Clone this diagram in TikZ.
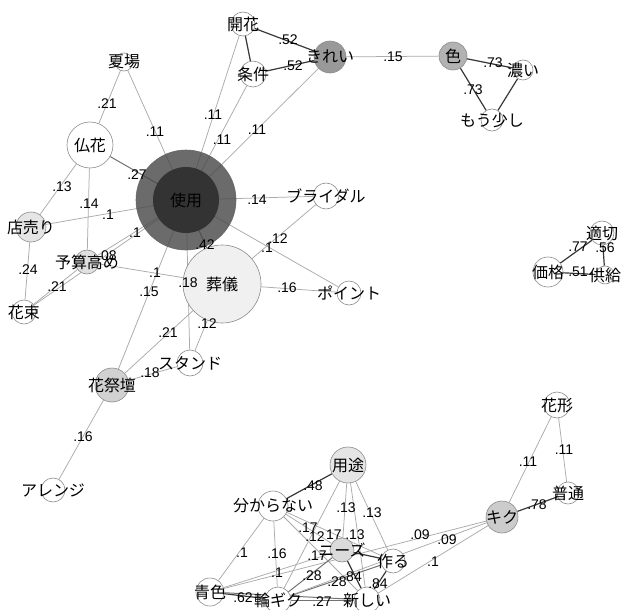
\documentclass[tikz,border=0pt]{standalone}
\usepackage{fontspec}
\setmainfont{Liberation Sans}
\newfontfamily\jpfont{Noto Sans CJK JP}
\usetikzlibrary{backgrounds}
\begin{document}
\begin{tikzpicture}[x=1pt,y=-1pt,
  nd/.style={circle,draw=black!45,line width=0.6pt,fill=white,inner sep=0pt,minimum size=#1},
  nd/.default=20pt,
  jt/.style={font=\jpfont\fontsize{16}{16}\selectfont,text=black,inner sep=0pt},
  nl/.style={font=\fontsize{14}{14}\selectfont,inner sep=0pt,text=black},
  ew/.style={draw=black!33,line width=0.75pt},
  em/.style={draw=black!55,line width=1pt},
  es/.style={draw=black!78,line width=1.2pt},
]
\useasboundingbox (0,0) rectangle (622,610);

% ---- circles ----
\node[nd=100pt,fill=black!72,draw=black!60,fill opacity=0.8] (shiyou) at (186,200) {};
\node[circle,inner sep=0pt,minimum size=66pt,fill=black!80] (shiyouin) at (186,200) {};
\node[nd=78pt,fill=black!6] (sougi) at (222,284) {};
\node[nd=46pt] (butsu) at (90,145) {};
\node[nd=18pt] (natsu) at (124,62) {};
\node[nd=24pt] (kaika) at (243,24) {};
\node[nd=26pt] (jouken) at (253,74) {};
\node[nd=32pt,fill=black!40] (kirei) at (330,57) {};
\node[nd=28pt,fill=black!30] (iro) at (453,56) {};
\node[nd=20pt] (koi) at (523,70) {};
\node[nd=22pt] (mou) at (492,120) {};
\node[nd=24pt] (tekisetsu) at (602,233) {};
\node[nd=30pt] (kakaku) at (548,272) {};
\node[nd=18pt] (kyoukyu) at (605,275) {};
\node[nd=26pt] (bridal) at (326,196) {};
\node[nd=24pt] (point) at (349,293) {};
\node[nd=26pt] (stand) at (190,363) {};
\node[nd=34pt,fill=black!18] (kasaidan) at (112,385) {};
\node[nd=24pt] (arrange) at (53,490) {};
\node[nd=30pt,fill=black!10] (misebai) at (31,227) {};
\node[nd=24pt,fill=black!12] (yosan) at (87,262) {};
\node[nd=24pt] (hanataba) at (24,312) {};
\node[nd=36pt,fill=black!10] (youto) at (348,465) {};
\node[nd=30pt] (wakaranai) at (273,506) {};
\node[nd=24pt,fill=black!14] (needs) at (342,550) {};
\node[nd=24pt] (tsukuru) at (393,561) {};
\node[nd=28pt] (aoiro) at (210,592) {};
\node[nd=26pt] (ringiku) at (278,600) {};
\node[nd=26pt] (atarashii) at (367,600) {};
\node[nd=32pt,fill=black!20] (kiku) at (502,517) {};
\node[nd=22pt] (futsuu) at (568,493) {};
\node[nd=26pt] (kagata) at (557,405) {};

% ---- edges ----
\begin{scope}[on background layer]
\fill[white] (0,0) rectangle (622,610);
\draw[es] (kaika) -- (kirei);
\draw[es] (jouken) -- (kirei);
\draw[es] (kaika) -- (jouken);
\draw[ew] (kirei) -- (iro);
\draw[es] (iro) -- (koi);
\draw[es] (iro) -- (mou);
\draw[es] (koi) -- (mou);
\draw[ew] (shiyou.center) -- (natsu);
\draw[ew] (shiyou.center) -- (kaika);
\draw[ew] (shiyou.center) -- (jouken);
\draw[ew] (shiyou.center) -- (kirei);
\draw[ew] (natsu) -- (butsu);
\draw[em] (butsu) -- (shiyou.center);
\draw[ew] (butsu) -- (misebai);
\draw[ew] (butsu) -- (yosan);
\draw[ew] (misebai) -- (shiyou.center);
\draw[ew] (misebai) -- (hanataba);
\draw[ew] (hanataba) -- (yosan);
\draw[ew] (hanataba) -- (shiyou.center);
\draw[ew] (yosan) -- (shiyou.center);
\draw[ew] (yosan) -- (sougi);
\draw[em] (shiyou.center) -- (sougi);
\draw[ew] (shiyou.center) -- (bridal);
\draw[ew] (shiyou.center) -- (point);
\draw[ew] (shiyou.center) -- (stand);
\draw[ew] (shiyou.center) -- (kasaidan);
\draw[ew] (sougi) -- (bridal);
\draw[ew] (sougi) -- (point);
\draw[ew] (sougi) -- (stand);
\draw[ew] (sougi) -- (kasaidan);
\draw[ew] (kasaidan) -- (stand);
\draw[ew] (kasaidan) -- (arrange);
\draw[es] (tekisetsu) -- (kakaku);
\draw[es] (tekisetsu) -- (kyoukyu);
\draw[es] (kakaku) -- (kyoukyu);
\draw[ew] (kagata) -- (kiku);
\draw[ew] (kagata) -- (futsuu);
\draw[es] (kiku) -- (futsuu);
\draw[es] (youto) -- (wakaranai);
\draw[ew] (youto) -- (needs);
\draw[ew] (youto) -- (tsukuru);
\draw[ew] (youto) -- (atarashii);
\draw[ew] (youto) -- (ringiku);
\draw[ew] (wakaranai) -- (needs);
\draw[ew] (wakaranai) -- (tsukuru);
\draw[ew] (wakaranai) -- (atarashii);
\draw[ew] (wakaranai) -- (aoiro);
\draw[ew] (wakaranai) -- (ringiku);
\draw[ew] (aoiro) -- (needs);
\draw[ew] (aoiro) -- (kiku);
\draw[es] (aoiro) -- (ringiku);
\draw[em] (aoiro) -- (atarashii);
\draw[em] (ringiku) -- (atarashii);
\draw[em] (ringiku) -- (needs);
\draw[em] (ringiku) -- (tsukuru);
\draw[ew] (ringiku) -- (kiku);
\draw[es] (needs) -- (atarashii);
\draw[es] (tsukuru) -- (atarashii);
\draw[es] (needs) -- (tsukuru);
\draw[ew] (atarashii) -- (kiku);
\end{scope}

% ---- word labels ----
\node[jt] (t1) at (shiyou) {使用};
\node[jt] (t2) at (sougi) {葬儀};
\node[jt] (t3) at (butsu) {仏花};
\node[jt] (t4) at (natsu) {夏場};
\node[jt] (t5) at (kaika) {開花};
\node[jt] (t6) at (jouken) {条件};
\node[jt] (t7) at (kirei) {きれい};
\node[jt] (t8) at (iro) {色};
\node[jt] (t9) at (koi) {濃い};
\node[jt] (t10) at (mou) {もう少し};
\node[jt] (t11) at (tekisetsu) {適切};
\node[jt] (t12) at (kakaku) {価格};
\node[jt] (t13) at (kyoukyu) {供給};
\node[jt] (t14) at (bridal) {ブライダル};
\node[jt] (t15) at (point) {ポイント};
\node[jt] (t16) at (stand) {スタンド};
\node[jt] (t17) at (kasaidan) {花祭壇};
\node[jt] (t18) at (arrange) {アレンジ};
\node[jt] (t19) at (misebai) {店売り};
\node[jt] (t20) at (yosan) {予算高め};
\node[jt] (t21) at (hanataba) {花束};
\node[jt] (t22) at (youto) {用途};
\node[jt] (t23) at (wakaranai) {分からない};
\node[jt] (t24) at (needs) {ニーズ};
\node[jt] (t25) at (tsukuru) {作る};
\node[jt] (t26) at (aoiro) {青色};
\node[jt] (t27) at (ringiku) {輪ギク};
\node[jt] (t28) at (atarashii) {新しい};
\node[jt] (t29) at (kiku) {キク};
\node[jt] (t30) at (futsuu) {普通};
\node[jt] (t31) at (kagata) {花形};

% ---- coefficient labels ----
\node[nl] (l1) at (288,40) {.52};
\node[nl] (l2) at (293,66) {.52};
\node[nl] (l3) at (393,57) {.15};
\node[nl] (l4) at (493,63) {.73};
\node[nl] (l5) at (473,90) {.73};
\node[nl] (l6) at (155,132) {.11};
\node[nl] (l7) at (213,115) {.11};
\node[nl] (l8) at (222,140) {.11};
\node[nl] (l9) at (257,130) {.11};
\node[nl] (l10) at (107,104) {.21};
\node[nl] (l11) at (137,175) {.27};
\node[nl] (l12) at (62,187) {.13};
\node[nl] (l13) at (89,204) {.14};
\node[nl] (l14) at (108,215) {.1};
\node[nl] (l15) at (135,233) {.1};
\node[nl] (l16) at (107,256) {.08};
\node[nl] (l17) at (28,270) {.24};
\node[nl] (l18) at (57,287) {.21};
\node[nl] (l19) at (155,273) {.1};
\node[nl] (l20) at (149,292) {.15};
\node[nl] (l21) at (188,283) {.18};
\node[nl] (l22) at (205,245) {.42};
\node[nl] (l23) at (257,200) {.14};
\node[nl] (l24) at (278,239) {.12};
\node[nl] (l25) at (267,248) {.1};
\node[nl] (l26) at (287,288) {.16};
\node[nl] (l27) at (207,324) {.12};
\node[nl] (l28) at (168,333) {.21};
\node[nl] (l29) at (150,373) {.18};
\node[nl] (l30) at (83,437) {.16};
\node[nl] (l31) at (578,247) {.77};
\node[nl] (l32) at (605,248) {.56};
\node[nl] (l33) at (578,272) {.51};
\node[nl] (l34) at (528,462) {.11};
\node[nl] (l35) at (564,450) {.11};
\node[nl] (l36) at (537,505) {.78};
\node[nl] (l37) at (313,486) {.48};
\node[nl] (l38) at (346,508) {.13};
\node[nl] (l39) at (372,513) {.13};
\node[nl] (l40) at (308,528) {.17};
\node[nl] (l41) at (315,537) {.12};
\node[nl] (l42) at (334,535) {17};
\node[nl] (l43) at (355,535) {.13};
\node[nl] (l44) at (242,553) {.1};
\node[nl] (l45) at (277,554) {.16};
\node[nl] (l46) at (317,556) {.17};
\node[nl] (l47) at (277,573) {.1};
\node[nl] (l48) at (312,576) {.28};
\node[nl] (l49) at (337,582) {.28};
\node[nl] (l50) at (354,577) {84};
\node[nl] (l51) at (378,584) {.84};
\node[nl] (l52) at (243,598) {.62};
\node[nl] (l53) at (322,602) {.27};
\node[nl] (l54) at (420,535) {.09};
\node[nl] (l55) at (447,540) {.09};
\node[nl] (l56) at (433,562) {.1};
\end{tikzpicture}
\end{document}
